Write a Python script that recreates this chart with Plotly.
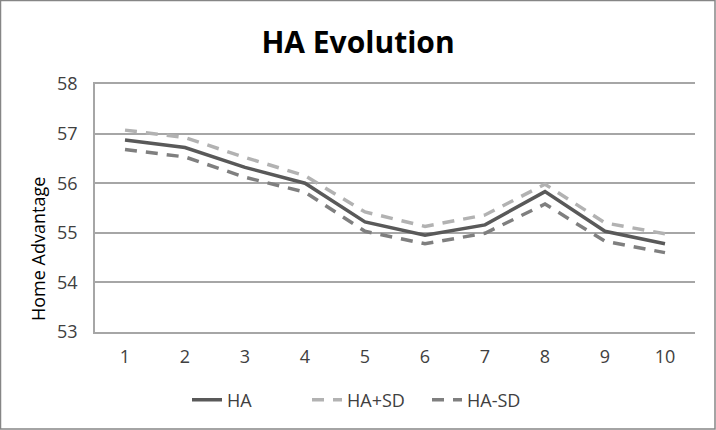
import plotly.graph_objects as go

periods = [1, 2, 3, 4, 5, 6, 7, 8, 9, 10]
ha = [56.87, 56.72, 56.32, 56.0, 55.22, 54.95, 55.16, 55.83, 55.03, 54.78]
ha_plus_sd = [57.07, 56.92, 56.52, 56.15, 55.42, 55.13, 55.36, 55.98, 55.2, 54.98]
ha_minus_sd = [56.68, 56.53, 56.12, 55.82, 55.03, 54.78, 54.99, 55.58, 54.83, 54.6]

fig = go.Figure()
fig.add_trace(go.Scatter(x=periods, y=ha, name='HA', mode='lines',
                         line=dict(color='#595959', width=3.5)))
fig.add_trace(go.Scatter(x=periods, y=ha_plus_sd, name='HA+SD', mode='lines',
                         line=dict(color='#b2b2b2', width=3.5, dash='12px,9px')))
fig.add_trace(go.Scatter(x=periods, y=ha_minus_sd, name='HA-SD', mode='lines',
                         line=dict(color='#7f7f7f', width=3.5, dash='12px,9px')))

# plot area: x 95..695, y 84..332
fig.update_layout(
    width=716,
    height=430,
    paper_bgcolor='white',
    plot_bgcolor='white',
    margin=dict(l=95, r=21, t=84, b=98, autoexpand=False),
    font=dict(family='Open Sans', color='#404040'),
    title=dict(text='<b>HA Evolution</b>', x=0.5, xanchor='center', xref='container',
               y=1 - 42 / 430, yanchor='middle',
               font=dict(size=30, color='black', family='Open Sans')),
    legend=dict(orientation='h', x=0.5 - 28 / 600, xanchor='center', yref='container',
                y=1 - 400 / 430, yanchor='middle', entrywidth=75,
                font=dict(size=18, color='#404040'), traceorder='normal'),
    shapes=[dict(type='rect', xref='paper', yref='paper',
                 x0=-94.5 / 600, x1=1 + 20 / 600, y0=-97 / 248, y1=1 + 83.5 / 248,
                 line=dict(color='#868686', width=1.5))],
    annotations=[dict(text='Home Advantage', textangle=-90, showarrow=False,
                      xref='paper', yref='paper', x=(38 - 95) / 600, y=(332 - 249) / 248,
                      xanchor='center', yanchor='middle',
                      font=dict(size=18, color='black'))],
)
fig.update_xaxes(
    range=[0.5, 10.5], tickmode='array', tickvals=periods, ticks='',
    showgrid=False, showline=True, mirror=True, linecolor='#a6a6a6', linewidth=1.5,
    tickfont=dict(size=18, color='#404040'), zeroline=False, automargin=False,
    ticklabelstandoff=8,
)
fig.update_yaxes(
    range=[53, 58], dtick=1, ticks='', showgrid=True, gridcolor='#a6a6a6', gridwidth=1.5,
    showline=True, linecolor='#a6a6a6', linewidth=1.5,
    tickfont=dict(size=18, color='#404040'), zeroline=False, automargin=False,
    ticklabelstandoff=12,
)

fig.write_html("out.html", config={'displayModeBar': False},
               post_script="document.body.style.margin='0';")
